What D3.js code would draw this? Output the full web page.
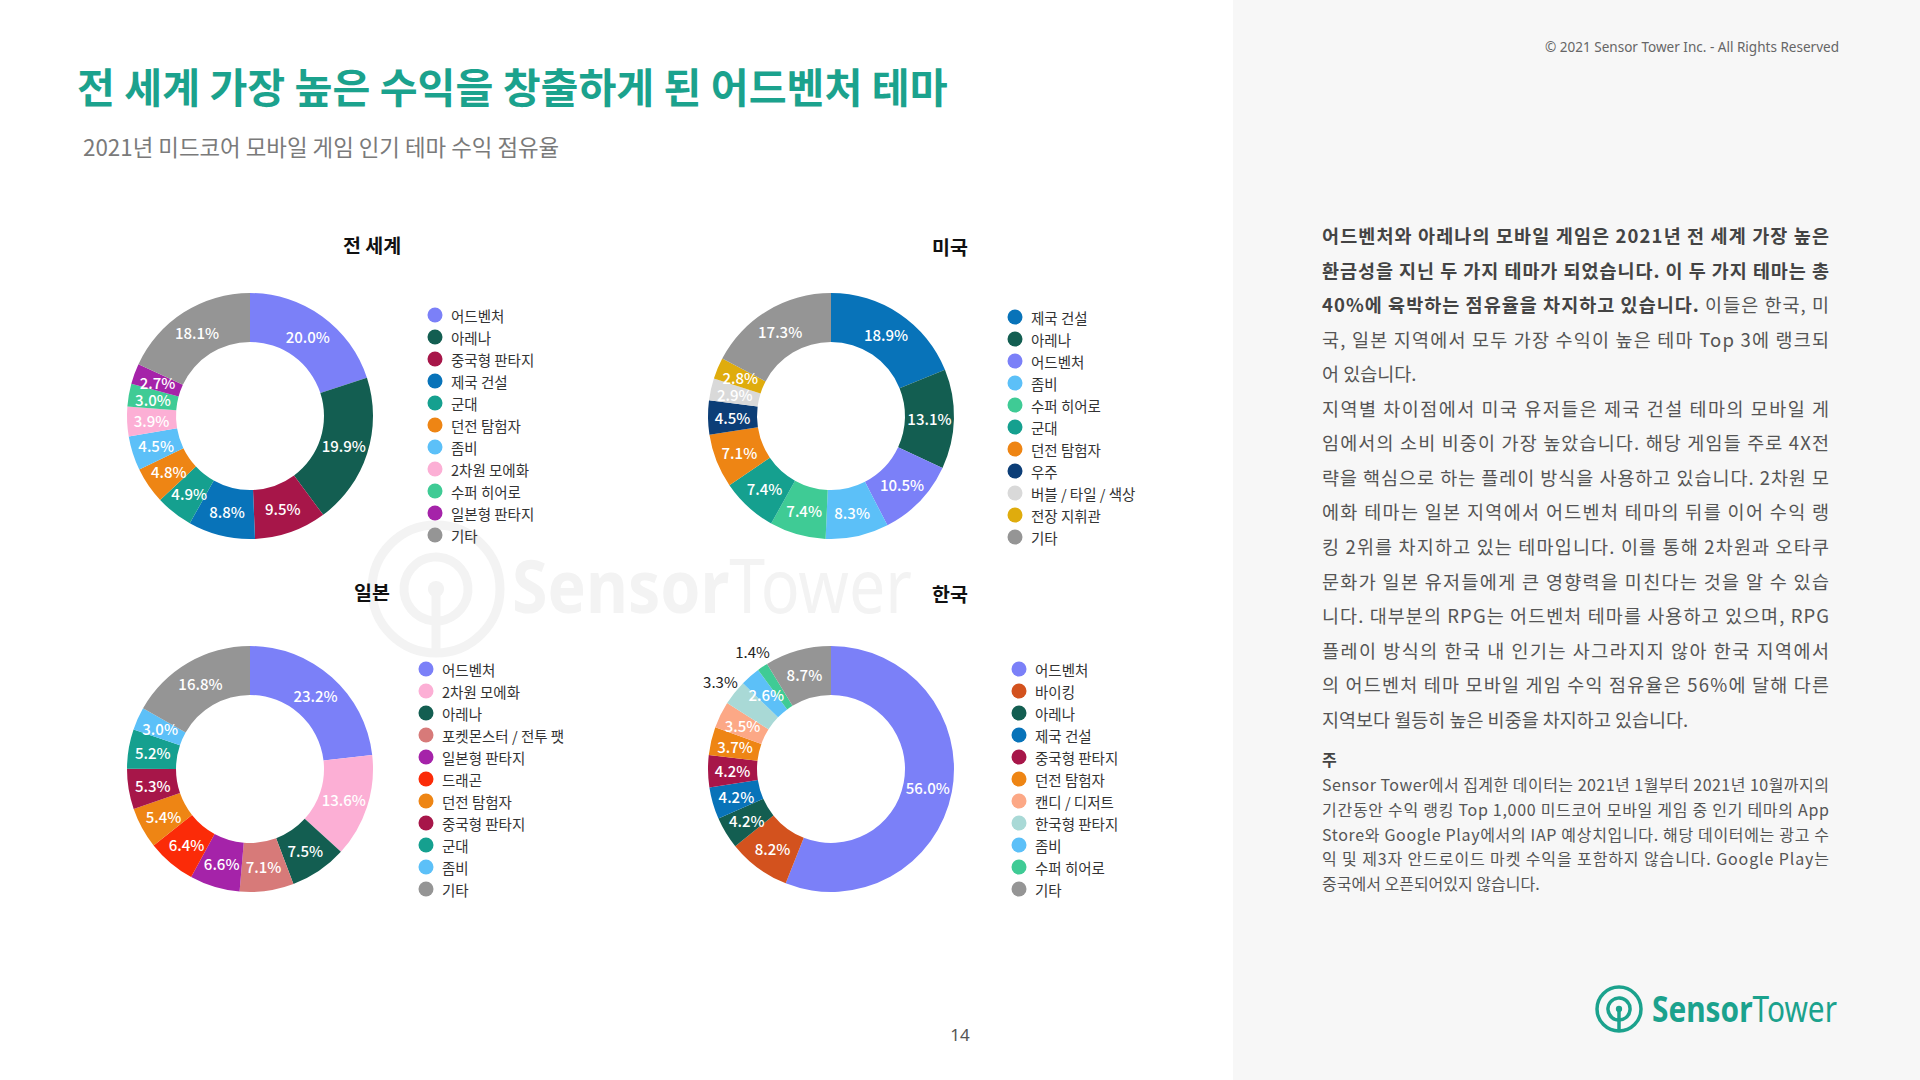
<!DOCTYPE html>
<html>
<head>
<meta charset="utf-8">
<script src="https://cdn.jsdelivr.net/npm/d3@7"></script>
<style>
  html, body { margin: 0; padding: 0; background: #fff; }
  svg { display: block; font-family: "Noto Sans CJK KR", "Noto Sans", sans-serif; }
</style>
</head>
<body>
<div id="chart"></div>
<script>
const regionNames = ['전 세계', '미국', '일본', '한국']

const worldThemes = ['어드벤처', '아레나', '중국형 판타지', '제국 건설', '군대', '던전 탐험자', '좀비', '2차원 모에화', '수퍼 히어로', '일본형 판타지', '기타']
const worldShares = [20.0, 19.9, 9.5, 8.8, 4.9, 4.8, 4.5, 3.9, 3.0, 2.7, 18.1]

const usThemes = ['제국 건설', '아레나', '어드벤처', '좀비', '수퍼 히어로', '군대', '던전 탐험자', '우주', '버블 / 타일 / 색상', '전장 지휘관', '기타']
const usShares = [18.9, 13.1, 10.5, 8.3, 7.4, 7.4, 7.1, 4.5, 2.9, 2.8, 17.3]

const jpThemes = ['어드벤처', '2차원 모에화', '아레나', '포켓몬스터 / 전투 팻', '일본형 판타지', '드래곤', '던전 탐험자', '중국형 판타지', '군대', '좀비', '기타']
const jpShares = [23.2, 13.6, 7.5, 7.1, 6.6, 6.4, 5.4, 5.3, 5.2, 3.0, 16.8]

const krThemes = ['어드벤처', '바이킹', '아레나', '제국 건설', '중국형 판타지', '던전 탐험자', '캔디 / 디저트', '한국형 판타지', '좀비', '수퍼 히어로', '기타']
const krShares = [56.0, 8.2, 4.2, 4.2, 4.2, 3.7, 3.5, 3.3, 2.6, 1.4, 8.7]

// small slices whose labels sit outside the ring
const krOutside = ['한국형 판타지', '수퍼 히어로']

const themeColors = {
  '어드벤처': '#7b80f8',
  '아레나': '#135e51',
  '중국형 판타지': '#a71649',
  '제국 건설': '#0873b9',
  '군대': '#15a08f',
  '던전 탐험자': '#ee8514',
  '좀비': '#5cc0f8',
  '2차원 모에화': '#fcafd5',
  '수퍼 히어로': '#3fcb95',
  '일본형 판타지': '#a523a9',
  '기타': '#959595',
  '우주': '#0c3e77',
  '버블 / 타일 / 색상': '#d9d9d9',
  '전장 지휘관': '#dfac0d',
  '포켓몬스터 / 전투 팻': '#d77a79',
  '드래곤': '#fb2b08',
  '바이킹': '#d3521e',
  '캔디 / 디저트': '#fca886',
  '한국형 판타지': '#a9d9d6',
}

const titleText = '전 세계 가장 높은 수익을 창출하게 된 어드벤처 테마'
const subtitleText = '2021년 미드코어 모바일 게임 인기 테마 수익 점유율'

const bodyLines = [
  [['어드벤처와 아레나의 모바일 게임은 2021년 전 세계 가장 높은', true]],
  [['환금성을 지닌 두 가지 테마가 되었습니다. 이 두 가지 테마는 총', true]],
  [['40%에 육박하는 점유율을 차지하고 있습니다.', true], [' 이들은 한국, 미', false]],
  [['국, 일본 지역에서 모두 가장 수익이 높은 테마 Top 3에 랭크되', false]],
  [['어 있습니다.', false]],
  [['지역별 차이점에서 미국 유저들은 제국 건설 테마의 모바일 게', false]],
  [['임에서의 소비 비중이 가장 높았습니다. 해당 게임들 주로 4X전', false]],
  [['략을 핵심으로 하는 플레이 방식을 사용하고 있습니다. 2차원 모', false]],
  [['에화 테마는 일본 지역에서 어드벤처 테마의 뒤를 이어 수익 랭', false]],
  [['킹 2위를 차지하고 있는 테마입니다. 이를 통해 2차원과 오타쿠', false]],
  [['문화가 일본 유저들에게 큰 영향력을 미친다는 것을 알 수 있습', false]],
  [['니다. 대부분의 RPG는 어드벤처 테마를 사용하고 있으며, RPG', false]],
  [['플레이 방식의 한국 내 인기는 사그라지지 않아 한국 지역에서', false]],
  [['의 어드벤처 테마 모바일 게임 수익 점유율은 56%에 달해 다른', false]],
  [['지역보다 월등히 높은 비중을 차지하고 있습니다.', false]],
]
const bodyParagraphEnds = [4, 14]

const noteTitle = '주'
const noteLines = [
  'Sensor Tower에서 집계한 데이터는 2021년 1월부터 2021년 10월까지의',
  '기간동안 수익 랭킹 Top 1,000 미드코어 모바일 게임 중 인기 테마의 App',
  'Store와 Google Play에서의 IAP 예상치입니다. 해당 데이터에는 광고 수',
  '익 및 제3자 안드로이드 마켓 수익을 포함하지 않습니다. Google Play는',
  '중국에서 오픈되어있지 않습니다.',
]

const width = 1920
const height = 1080
const teal = '#1ba28d'

const svg = d3.select('#chart')
  .append('svg')
  .attr('width', width)
  .attr('height', height)

svg.append('rect')
  .attr('width', width)
  .attr('height', height)
  .attr('fill', '#fff')

svg.append('rect')
  .attr('x', 1233)
  .attr('width', width - 1233)
  .attr('height', height)
  .attr('fill', '#f7f7f7')

// sensor tower mark: ring, open arc, dot and stem
const drawMark = (g, r, sw, color) => {
  g.append('circle')
    .attr('r', r)
    .attr('fill', 'none')
    .attr('stroke', color)
    .attr('stroke-width', sw)
  g.append('path')
    .attr('d', d3.arc()({
      innerRadius: r * 0.5 - sw / 2,
      outerRadius: r * 0.5 + sw / 2,
      startAngle: Math.PI * 0.78,
      endAngle: Math.PI * 2 - Math.PI * 0.78 + Math.PI * 2,
    }))
    .attr('fill', color)
  g.append('circle')
    .attr('r', sw * 0.9)
    .attr('fill', color)
  g.append('line')
    .attr('y2', r)
    .attr('stroke', color)
    .attr('stroke-width', sw)
}

// watermark behind the charts
const wm = svg.append('g')
drawMark(wm.append('g').attr('transform', 'translate(436, 589)'), 64, 9, '#f3f3f3')
wm.append('text')
  .attr('x', 512)
  .attr('y', 613)
  .attr('font-family', '"Noto Sans", sans-serif')
  .attr('font-size', 74)
  .attr('fill', '#f3f3f3')
  .attr('textLength', 400)
  .attr('lengthAdjust', 'spacingAndGlyphs')
  .call(t => {
    t.append('tspan').attr('font-weight', 'bold').text('Sensor')
    t.append('tspan').text('Tower')
  })

// title
svg.append('text')
  .attr('x', 77)
  .attr('y', 103)
  .attr('font-size', 41.2)
  .attr('font-weight', 'bold')
  .attr('fill', teal)
  .text(titleText)

svg.append('text')
  .attr('x', 83)
  .attr('y', 156)
  .attr('font-size', 22.4)
  .attr('fill', '#7a7a7a')
  .text(subtitleText)

// donuts
const pie = d3.pie().sort(null).value(d => d.share)
const arc = d3.arc().innerRadius(74).outerRadius(123)
const outerLabelArc = d3.arc().innerRadius(141).outerRadius(141)

const panels = [
  { title: regionNames[0], themes: worldThemes, shares: worldShares, cx: 250, cy: 416, tx: 372, ty: 244, lx: 435, ly: 315 },
  { title: regionNames[1], themes: usThemes, shares: usShares, cx: 831, cy: 416, tx: 950, ty: 246, lx: 1015, ly: 317 },
  { title: regionNames[2], themes: jpThemes, shares: jpShares, cx: 250, cy: 769, tx: 372, ty: 591, lx: 426, ly: 669 },
  { title: regionNames[3], themes: krThemes, shares: krShares, cx: 831, cy: 769, tx: 950, ty: 593, lx: 1019, ly: 669, outside: krOutside },
]

panels.forEach(p => {
  const data = p.themes.map((theme, i) => ({ theme, share: p.shares[i] }))
  const outside = p.outside || []

  svg.append('text')
    .attr('x', p.tx)
    .attr('y', p.ty)
    .attr('text-anchor', 'middle')
    .attr('dominant-baseline', 'central')
    .attr('font-size', 19.5)
    .attr('font-weight', 'bold')
    .attr('fill', '#111')
    .text(p.title)

  const g = svg.append('g')
    .attr('transform', `translate(${p.cx}, ${p.cy})`)

  const arcs = pie(data)

  g.selectAll('path.slice')
    .data(arcs)
    .enter()
    .append('path')
      .attr('class', 'slice')
      .attr('d', arc)
      .attr('fill', d => themeColors[d.data.theme])

  g.selectAll('text.pct')
    .data(arcs)
    .enter()
    .append('text')
      .attr('class', 'pct')
      .attr('transform', d => {
        const c = outside.includes(d.data.theme) ? outerLabelArc.centroid(d) : arc.centroid(d)
        return `translate(${c[0]}, ${c[1]})`
      })
      .attr('text-anchor', 'middle')
      .attr('dominant-baseline', 'central')
      .attr('font-size', 15)
      .attr('font-weight', d => outside.includes(d.data.theme) ? 'normal' : 500)
      .attr('fill', d => outside.includes(d.data.theme) ? '#222' : '#fff')
      .text(d => `${d3.format('.1f')(d.data.share)}%`)

  const legend = svg.append('g')
    .attr('transform', `translate(${p.lx}, ${p.ly})`)

  const items = legend.selectAll('g')
    .data(data)
    .enter()
    .append('g')
      .attr('transform', (d, i) => `translate(0, ${i * 22})`)

  items.append('circle')
    .attr('r', 7.5)
    .attr('fill', d => themeColors[d.theme])

  items.append('text')
    .attr('x', 16)
    .attr('dominant-baseline', 'central')
    .attr('font-size', 14.5)
    .attr('fill', '#333')
    .text(d => d.theme)
})

// right panel
svg.append('text')
  .attr('x', 1839)
  .attr('y', 52)
  .attr('text-anchor', 'end')
  .attr('font-family', '"Noto Sans", sans-serif')
  .attr('font-size', 14)
  .attr('fill', '#666')
  .attr('textLength', 294)
  .attr('lengthAdjust', 'spacingAndGlyphs')
  .text('© 2021 Sensor Tower Inc. - All Rights Reserved')

const textLeft = 1322
const textWidth = 507

bodyLines.forEach((segs, i) => {
  const t = svg.append('text')
    .attr('x', textLeft)
    .attr('y', 243 + i * 34.55)
    .attr('font-size', 18.5)
    .attr('fill', '#555')
  if (!bodyParagraphEnds.includes(i)) {
    t.attr('textLength', textWidth).attr('lengthAdjust', 'spacing')
  }
  segs.forEach(([s, bold]) => {
    t.append('tspan')
      .attr('font-weight', bold ? 'bold' : 'normal')
      .attr('fill', bold ? '#444' : '#555')
      .text(s)
  })
})

svg.append('text')
  .attr('x', textLeft)
  .attr('y', 766)
  .attr('font-size', 16)
  .attr('font-weight', 'bold')
  .attr('fill', '#444')
  .text(noteTitle)

noteLines.forEach((s, i) => {
  const t = svg.append('text')
    .attr('x', textLeft)
    .attr('y', 791 + i * 24.8)
    .attr('font-size', 16)
    .attr('fill', '#555')
    .text(s)
  if (i < noteLines.length - 1) {
    t.attr('textLength', textWidth).attr('lengthAdjust', 'spacing')
  }
})

// logo
drawMark(svg.append('g').attr('transform', 'translate(1619, 1009)'), 22, 3.5, teal)
svg.append('text')
  .attr('x', 1652)
  .attr('y', 1022)
  .attr('font-family', '"Noto Sans", sans-serif')
  .attr('font-size', 36)
  .attr('fill', teal)
  .attr('textLength', 185)
  .attr('lengthAdjust', 'spacingAndGlyphs')
  .call(t => {
    t.append('tspan').attr('font-weight', 'bold').text('Sensor')
    t.append('tspan').text('Tower')
  })

// page number
svg.append('text')
  .attr('x', 960)
  .attr('y', 1034)
  .attr('text-anchor', 'middle')
  .attr('dominant-baseline', 'central')
  .attr('font-family', '"Noto Sans", sans-serif')
  .attr('font-size', 17)
  .attr('fill', '#555')
  .text('14')
</script>
</body>
</html>
